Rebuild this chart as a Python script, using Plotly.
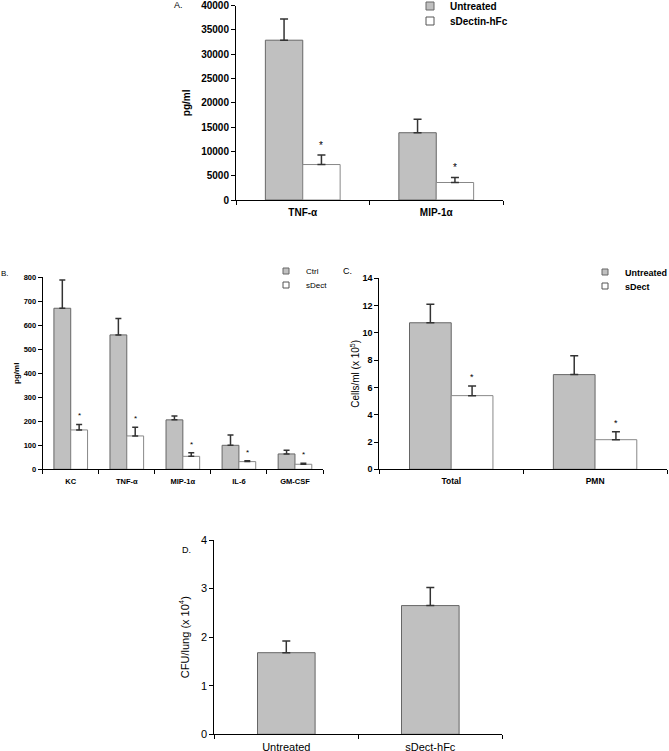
import plotly.graph_objects as go

# ---------------- data ----------------
A_categories = ["TNF-α", "MIP-1α"]
A_untreated = [32900, 13850]
A_untreated_err = [4350, 2750]
A_sdectin = [7300, 3600]
A_sdectin_err = [1950, 1050]

B_categories = ["KC", "TNF-α", "MIP-1α", "IL-6", "GM-CSF"]
B_ctrl = [671, 560, 206, 100, 64]
B_ctrl_err = [118, 68, 16, 43, 15]
B_sdect = [164, 139, 54, 32, 21]
B_sdect_err = [23, 36, 15, 4, 4]

C_categories = ["Total", "PMN"]
C_untreated = [10.74, 6.94]
C_untreated_err = [1.35, 1.39]
C_sdect = [5.40, 2.17]
C_sdect_err = [0.70, 0.59]

D_categories = ["Untreated", "sDect-hFc"]
D_values = [1.68, 2.65]
D_err = [0.24, 0.37]

FONT = "Arial, Liberation Sans, sans-serif"
GRAY = "#c0c0c0"
EDGE = "#666666"
ERR = "#333333"

W, H = 669, 751


def px_x(p):
    return p / W


def px_y(p):
    return 1 - p / H


fig = go.Figure()


def add_pair(xa, ya, cats, v1, e1, v2, e2, w, thick, ewidth, star_size, legs, names, legsize):
    fig.add_trace(go.Bar(
        x=cats, y=v1, xaxis=xa, yaxis=ya, width=w, offset=-w,
        marker=dict(color=GRAY, line=dict(color=EDGE, width=1)),
        error_y=dict(type="data", array=e1, arrayminus=[0] * len(e1), symmetric=False,
                     color=ERR, thickness=thick, width=ewidth),
        showlegend=False))
    fig.add_trace(go.Bar(
        x=cats, y=v2, xaxis=xa, yaxis=ya, width=w, offset=0,
        marker=dict(color="white", line=dict(color="#888888", width=1)),
        error_y=dict(type="data", array=e2, arrayminus=[0] * len(e2), symmetric=False,
                     color=ERR, thickness=thick, width=ewidth),
        showlegend=False))
    for nm, col, lc, lg in [(names[0], GRAY, EDGE, legs[0]), (names[1], "white", "#555555", legs[1])]:
        fig.add_trace(go.Scatter(
            x=[None], y=[None], xaxis=xa, yaxis=ya, mode="markers", name=nm,
            marker=dict(symbol="square", size=legsize, color=col, line=dict(color=lc, width=1)),
            legend=lg, showlegend=True))
    for i in range(len(cats)):
        fig.add_annotation(x=i + w / 2, y=v2[i] + e2[i], xref=xa, yref=ya.replace("axis", ""),
                           text="*", showarrow=False, yanchor="bottom", yshift=2,
                           font=dict(family=FONT, size=star_size, color="#000000"))


add_pair("x", "y", A_categories, A_untreated, A_untreated_err, A_sdectin, A_sdectin_err,
         0.28, 1.5, 4, 10, ["legend", "legend2"], ["Untreated", "sDectin-hFc"], 8)
add_pair("x2", "y2", B_categories, B_ctrl, B_ctrl_err, B_sdect, B_sdect_err,
         0.30, 1.5, 3, 8, ["legend3", "legend4"], ["Ctrl", "sDect"], 6)
add_pair("x3", "y3", C_categories, C_untreated, C_untreated_err, C_sdect, C_sdect_err,
         0.29, 1.5, 4, 9, ["legend5", "legend6"], ["Untreated", "sDect"], 6)
fig.add_trace(go.Bar(
    x=D_categories, y=D_values, xaxis="x4", yaxis="y4", width=0.40, offset=-0.20,
    marker=dict(color=GRAY, line=dict(color=EDGE, width=1)),
    error_y=dict(type="data", array=D_err, arrayminus=[0] * len(D_err), symmetric=False,
                 color=ERR, thickness=1.5, width=4),
    showlegend=False))


def xax(domain, anchor, n, size, weight, lstand):
    return dict(domain=domain, anchor=anchor, type="category", range=[-0.5, n - 0.5],
                showline=True, linecolor="black", linewidth=1, ticks="outside",
                tickson="boundaries", ticklen=4, tickcolor="black", showgrid=False,
                zeroline=False, fixedrange=True, automargin=False, ticklabelstandoff=lstand,
                tickfont=dict(family=FONT, size=size, color="#000000", weight=weight))


def yax(domain, anchor, rng, dtick, size, weight, title, tsize, tweight, standoff):
    return dict(domain=domain, anchor=anchor, range=rng, dtick=dtick, tickformat="d",
                showline=True, linecolor="black", linewidth=1, ticks="outside",
                ticklen=4, tickcolor="black", showgrid=False, zeroline=False, automargin=False,
                fixedrange=True,
                tickfont=dict(family=FONT, size=size, color="#000000", weight=weight),
                title=dict(text=title, standoff=standoff,
                           font=dict(family=FONT, size=tsize, color="#000000", weight=tweight)))


def leg(xl, yc, size, weight):
    return dict(x=px_x(xl), y=px_y(yc), xanchor="left", yanchor="middle",
                bgcolor="rgba(0,0,0,0)", itemwidth=30, tracegroupgap=0,
                font=dict(family=FONT, size=size, color="#000000", weight=weight))


fig.update_layout(
    width=W, height=H, margin=dict(l=0, r=0, t=0, b=0, pad=0, autoexpand=False),
    paper_bgcolor="white", plot_bgcolor="white",
    barmode="overlay",
    xaxis=xax([px_x(236), px_x(503)], "y", 2, 10, "bold", 3),
    yaxis=yax([px_y(200), px_y(5.7)], "x", [0, 40000], 5000, 10, "bold", "pg/ml", 10, "bold", 8),
    xaxis2=xax([px_x(42.7), px_x(323)], "y2", 5, 7.5, "bold", 5),
    yaxis2=yax([px_y(469.3), px_y(277.3)], "x2", [0, 800], 100, 7.5, "bold", "pg/ml", 8, "bold", 2),
    xaxis3=xax([px_x(379.3), px_x(667)], "y3", 2, 8.5, "bold", 3),
    yaxis3=yax([px_y(469.3), px_y(278.3)], "x3", [0, 14], 2, 9, "bold",
               "Cells/ml (x 10<sup>5</sup>)", 10, "normal", 0),
    xaxis4=xax([px_x(214.3), px_x(502.3)], "y4", 2, 11, "normal", 2),
    yaxis4=yax([px_y(734.3), px_y(540)], "x4", [0, 4], 1, 11, "normal",
               "CFU/lung (x 10<sup>4</sup>)", 11, "normal", 9),
    legend=leg(410, 6, 10, "bold"),
    legend2=leg(410, 21, 10, "bold"),
    legend3=leg(266, 271, 8, "normal"),
    legend4=leg(266, 285, 8, "normal"),
    legend5=leg(585, 272, 9, "bold"),
    legend6=leg(585, 286, 9, "bold"),
)

for txt, x, y, sz in [("A.", 178, 5, 9), ("B.", 5, 273, 8), ("C.", 347, 271, 9), ("D.", 186, 550, 9)]:
    fig.add_annotation(x=px_x(x), y=px_y(y), xref="paper", yref="paper", text=txt,
                       showarrow=False, xanchor="center", yanchor="middle",
                       font=dict(family=FONT, size=sz, color="#000000"))

fig.write_html("out.html", config={"displayModeBar": False},
               post_script="document.body.style.margin='0';")
